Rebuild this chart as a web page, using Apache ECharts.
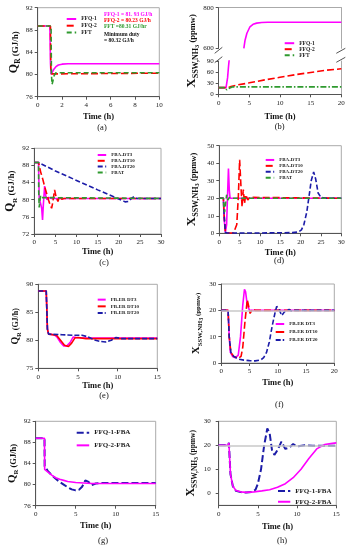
<!DOCTYPE html>
<html><head><meta charset="utf-8">
<script src="https://cdn.jsdelivr.net/npm/echarts@6/dist/echarts.min.js"></script>
<style>html,body{margin:0;padding:0;background:#fff}#c{width:354px;height:550px}</style>
</head><body><div id="c"></div>
<script>
// ---------------- DATA ----------------
// (a) Q_R vs time
const a_t_ffq1 = [0, 1.0, 1.05, 1.1, 1.2, 1.35, 1.5, 1.7, 2.0, 2.5, 10];
const a_q_ffq1 = [88.7, 88.7, 82, 80.0, 80.4, 81.0, 81.4, 81.7, 81.85, 81.93, 81.93];
const a_t_ffq2 = [0, 1.05, 1.08, 1.15, 1.3, 10];
const a_q_ffq2 = [88.7, 88.7, 81, 80.1, 80.23, 80.23];
const a_t_fft = [0, 1.1, 1.13, 1.18, 1.25, 1.35, 1.5, 1.7, 10];
const a_q_fft = [88.7, 88.7, 80, 78.2, 78.8, 79.8, 80.3, 80.31, 80.31];
const a_notes = ['FFQ-1 = 81. 93 GJ/h', 'FFQ-2 = 80.23 GJ/h', 'FFT =80.31 GJ/hr', 'Minimum duty', '= 80.32 GJ/h'];

// (b) X_SSW,NH3 vs time (broken axis)
const b_t_ffq1_low = [0, 1.2, 1.3, 1.45, 1.6, 1.75];
const b_x_ffq1_low = [18, 18, 20, 45, 75, 100];
const b_t_ffq1_high = [4.1, 4.3, 4.6, 5.1, 5.6, 6.2, 7.0, 8, 20];
const b_x_ffq1_high = [600, 640, 674, 706, 718, 724, 727, 728, 728];
const b_t_ffq2 = [0, 1.0, 1.3, 1.6, 2, 3, 5, 7.5, 10, 12.5, 15, 17.5, 20];
const b_x_ffq2 = [18, 18, 16, 18, 21, 25, 31, 39, 46, 53, 59, 65, 69];
const b_t_fft = [0, 1.0, 1.3, 1.5, 1.8, 2.2, 20];
const b_x_fft = [18, 18, 12, 10, 17, 20, 20];

// (c) Q_R, FBA
const c_t_dt3 = [0, 1.0, 1.15, 1.5, 1.75, 1.95, 2.15, 2.45, 2.7, 3.0, 3.4, 4, 30];
const c_q_dt3 = [88.7, 88.7, 80.5, 80.2, 78, 75.3, 79, 83.2, 81, 80, 80.5, 80.3, 80.3];
const c_t_dt10 = [0, 1.0, 1.5, 2.0, 2.5, 3.0, 3.5, 4.1, 4.4, 4.8, 5.2, 5.6, 6.0, 6.5, 7, 30];
const c_q_dt10 = [88.7, 88.7, 86.5, 84.8, 82.9, 81.2, 79.5, 78.0, 79.5, 82.3, 80.5, 79.6, 80.9, 80.1, 80.3, 80.3];
const c_t_dt20 = [0, 1.0, 1.2, 5, 10, 15, 19, 21.5, 22.3, 23.0, 23.6, 24.3, 30];
const c_q_dt20 = [88.7, 88.7, 88.4, 86.7, 84.5, 82.3, 80.6, 79.5, 79.6, 80.3, 80.7, 80.3, 80.3];
const c_t_fbat = [0, 1.0, 1.05, 1.15, 1.3, 1.5, 1.7, 2.0, 30];
const c_q_fbat = [88.7, 88.7, 82, 78.2, 79.5, 81, 80.5, 80.3, 80.3];

// (d) X, FBA
const d_t_dt3 = [0, 1.0, 1.2, 1.5, 1.8, 2.0, 2.25, 2.45, 2.65, 3.0, 3.5, 30];
const d_x_dt3 = [20, 20, 8, 0.5, 5, 20, 37, 25, 20, 21, 20, 20];
const d_t_dt10 = [0, 1.0, 1.2, 1.5, 2, 3.5, 3.9, 4.3, 4.7, 5.0, 5.3, 5.6, 5.9, 6.2, 6.5, 7, 7.5, 30];
const d_x_dt10 = [20, 20, 10, 0.5, 0.2, 0.2, 1, 5, 22, 42, 28, 15, 25, 17, 22, 19, 20.5, 20];
const d_t_dt20 = [0, 1.0, 1.2, 1.5, 2, 10, 18, 19.5, 20.2, 20.8, 21.5, 22, 22.6, 23.2, 23.7, 24.3, 25, 26, 30];
const d_x_dt20 = [20, 20, 10, 0.5, 0.2, 0.2, 0.4, 0.8, 2, 5, 12, 20, 30, 35, 31, 23, 20.5, 20, 20];
const d_t_fbat = [0, 1.0, 1.15, 1.3, 1.6, 1.8, 2.1, 2.5, 3, 30];
const d_x_fbat = [20, 20, 15, 12, 18, 22, 19, 20.5, 20, 20];

// (e) Q_R, FB-ER
const e_t_dt3 = [0, 1.0, 1.15, 1.3, 2.0, 2.4, 2.8, 3.2, 3.6, 4.0, 4.4, 4.8, 5.5, 15];
const e_q_dt3 = [88.8, 88.8, 82, 81.1, 81.0, 80.5, 79.6, 79.0, 79.0, 79.6, 80.6, 80.5, 80.4, 80.4];
const e_t_dt10 = [0, 1.0, 1.15, 1.3, 2.3, 2.8, 3.3, 3.8, 4.2, 4.6, 5, 6, 15];
const e_q_dt10 = [88.8, 88.8, 82, 81.1, 80.9, 80.0, 79.1, 78.9, 79.5, 80.4, 80.5, 80.3, 80.3];
const e_t_dt20 = [0, 1.0, 1.15, 1.3, 3, 4.5, 5.5, 6.3, 7, 7.8, 8.5, 9.2, 9.8, 10.5, 11.5, 15];
const e_q_dt20 = [88.8, 88.8, 82, 81.1, 81.0, 80.9, 80.9, 80.6, 80.1, 79.8, 79.7, 80.0, 80.5, 80.3, 80.3, 80.3];

// (f) X, FB-ER
const f_t_dt3 = [0, 1.2, 1.4, 1.6, 2.0, 2.5, 3.0, 3.4, 3.8, 4.1, 4.3, 4.6, 5.0, 5.5, 20];
const f_x_dt3 = [20, 20, 10, 4, 2.5, 2, 3, 10, 22, 28, 27, 22, 20, 20, 20];
const f_t_dt10 = [0, 1.2, 1.4, 1.7, 2.2, 3.0, 3.5, 3.8, 4.2, 4.6, 4.9, 5.1, 5.5, 6, 20];
const f_x_dt10 = [20, 20, 10, 4, 2.5, 1.8, 2.5, 6, 16, 24, 21, 18.8, 20.5, 20, 20];
const f_t_dt20 = [0, 1.2, 1.4, 1.7, 2.2, 3, 4, 5, 6, 7, 7.5, 8, 8.5, 9, 9.5, 9.8, 10.2, 10.7, 11.2, 12, 12.5, 13, 20];
const f_x_dt20 = [20, 20, 10, 4, 2.5, 1.5, 1.1, 0.9, 0.8, 1.2, 2, 4, 8, 14, 19, 21.5, 20.5, 18, 19.5, 20.3, 19.6, 20, 20];

// (g) Q_R, FFQ-FBA
const g_t_ffq1 = [0, 1.1, 1.12, 1.5, 2, 2.5, 3, 3.5, 4, 4.5, 5, 5.4, 5.8, 6.2, 6.6, 7.0, 7.5, 8, 15];
const g_q_ffq1 = [88.8, 88.8, 83.5, 82.6, 81.8, 81.1, 80.5, 80.0, 79.5, 79.1, 78.9, 79.0, 79.6, 80.8, 80.5, 79.9, 80.2, 80.3, 80.3];
const g_t_ffq2 = [0, 1.1, 1.12, 1.5, 2, 2.5, 3, 3.5, 4, 5, 6, 7, 15];
const g_q_ffq2 = [88.8, 88.8, 82.9, 82.4, 81.8, 81.3, 81.0, 80.8, 80.6, 80.4, 80.3, 80.2, 80.2];

// (h) X, FFQ-FBA
const h_t_ffq1 = [0, 1.2, 1.3, 1.5, 1.8, 2.2, 2.8, 3.5, 4.2, 4.7, 5.0, 5.4, 5.8, 6.2, 6.5, 6.8, 7.1, 7.5, 8.0, 8.5, 9.0, 9.5, 10, 11, 12, 15];
const h_x_ffq1 = [20, 20, 21, 8, 3, 1, 0.5, 0.3, 0.5, 1.5, 4, 10, 20, 27, 25, 18, 16, 18, 21.5, 18.5, 19, 20.5, 19.5, 20, 19.8, 19.8];
const h_t_ffq2 = [0, 1.2, 1.3, 1.5, 1.8, 2.2, 2.8, 3.5, 4.5, 5.5, 6.5, 7.5, 8.5, 9.5, 10.5, 11.5, 12.5, 13.5, 14.5, 15];
const h_x_ffq2 = [20, 20, 21, 8, 3, 1.2, 0.6, 0.4, 0.6, 1.0, 1.5, 2.5, 4, 6.5, 10, 14.5, 18.5, 20.3, 20.8, 21];

const captions = ['(a)', '(b)', '(c)', '(d)', '(e)', '(f)', '(g)', '(h)'];
const xName = 'Time (h)';

// ---------------- BUILD ----------------
const SERIF = '"Liberation Serif","Times New Roman",serif';
const COL = {mag: '#ff00ff', red: '#ff0000', navy: '#1c1ca8', green: '#2f9a2f'};
const grid = [], xAxis = [], yAxis = [], series = [], legend = [], graphic = [];
const zip = (t, v) => t.map((x, i) => [x, v[i]]);

function addGrid(g, show) {
  grid.push(Object.assign({show: show !== false, borderColor: '#aaa', borderWidth: 1, backgroundColor: 'transparent'}, g));
  return grid.length - 1;
}
function addX(gi, max, interval, nameGap, o) {
  o = o || {};
  xAxis.push({
    type: 'value', gridIndex: gi, min: 0, max: max, interval: interval,
    position: o.position || 'bottom',
    axisLine: {show: true, onZero: false, lineStyle: {color: o.lineColor || '#555', width: 1}},
    axisTick: {show: o.noLabel ? false : true, length: 3, lineStyle: {color: '#555'}},
    axisLabel: {show: !o.noLabel, fontSize: 7, fontFamily: SERIF, color: '#222', margin: 5},
    splitLine: {show: false},
    name: o.noLabel ? '' : xName, nameLocation: 'middle', nameGap: nameGap,
    nameTextStyle: {fontFamily: SERIF, fontWeight: 'bold', fontSize: 8.5, color: '#111'}
  });
  return xAxis.length - 1;
}
function qName(qs, us) {
  return {
    name: '{q|Q}{r|R}{u| (GJ/h)}',
    rich: {
      q: {fontSize: qs, fontWeight: 'bold', fontFamily: SERIF, color: '#111', verticalAlign: 'bottom', padding: [0, 0, 2, 0]},
      r: {fontSize: qs * 0.62, fontWeight: 'bold', fontFamily: SERIF, color: '#111', verticalAlign: 'bottom'},
      u: {fontSize: us, fontWeight: 'bold', fontFamily: SERIF, color: '#111', verticalAlign: 'bottom', padding: [0, 0, 2, 0]}
    }
  };
}
function xNameRich(xs, us) {
  return {
    name: '{x|X}{s|SSW,NH}{t|3}{u| (ppmw)}',
    rich: {
      x: {fontSize: xs, fontWeight: 'bold', fontFamily: SERIF, color: '#111', verticalAlign: 'bottom', padding: [0, 0, 3, 0]},
      s: {fontSize: xs * 0.62, fontWeight: 'bold', fontFamily: SERIF, color: '#111', verticalAlign: 'bottom', padding: [0, 0, 1, 0]},
      t: {fontSize: xs * 0.5, fontWeight: 'bold', fontFamily: SERIF, color: '#111', verticalAlign: 'bottom'},
      u: {fontSize: us, fontWeight: 'bold', fontFamily: SERIF, color: '#111', verticalAlign: 'bottom', padding: [0, 0, 3, 0]}
    }
  };
}
function addY(gi, min, max, interval, nm, nameGap, o) {
  o = o || {};
  const ax = {
    type: 'value', gridIndex: gi, min: min, max: max, interval: interval,
    position: o.position || 'left',
    axisLine: {show: true, onZero: false, lineStyle: {color: o.lineColor || '#555', width: 1}},
    axisTick: {show: !o.noLabel, length: 3, lineStyle: {color: '#555'}},
    axisLabel: {show: !o.noLabel, fontSize: 7, fontFamily: SERIF, color: '#222', margin: o.margin || 5},
    splitLine: {show: false}
  };
  if (o.custom) { ax.axisLabel.customValues = o.custom; ax.axisTick.customValues = o.custom; }
  if (o.hideLine) ax.axisLine.show = false;
  if (nm) {
    ax.name = nm.name; ax.nameLocation = 'middle'; ax.nameRotate = 90; ax.nameGap = nameGap;
    ax.nameTextStyle = {rich: nm.rich, fontFamily: SERIF, fontWeight: 'bold', color: '#111'};
  }
  yAxis.push(ax);
  return yAxis.length - 1;
}
function addLine(name, xi, yi, t, v, color, dash, width, extra) {
  series.push(Object.assign({
    type: 'line', name: name, xAxisIndex: xi, yAxisIndex: yi, data: zip(t, v),
    symbol: 'none', showSymbol: false, clip: true, animation: false,
    lineStyle: {color: color, width: width || 1.6, type: dash || 'solid'},
    itemStyle: {color: color}
  }, extra || {}));
}
function addLegend(names, left, top, iw, ih, gap, fs) {
  legend.push({
    data: names, left: left, top: top, orient: 'vertical', padding: 0,
    itemWidth: iw, itemHeight: ih, itemGap: gap, selectedMode: false,
    itemStyle: {opacity: 0},
    textStyle: {fontSize: fs, fontFamily: SERIF, fontWeight: 'bold', color: '#222', lineHeight: ih}
  });
}
function addText(txt, x, y, size, color, bold, align) {
  graphic.push({type: 'text', x: x, y: y, silent: true,
    style: {text: txt, fill: color || '#111', font: (bold ? 'bold ' : '') + size + 'px ' + SERIF,
      align: align || 'left', verticalAlign: 'middle', textAlign: align || 'left', textVerticalAlign: 'middle'}});
}
const ref20 = {markLine: {silent: true, symbol: 'none', label: {show: false}, animation: false,
  lineStyle: {color: '#c8c8c8', width: 1.5, type: 'solid'}, data: [{yAxis: 20}]}};

// (a)
{
  const g = addGrid({left: 37.7, top: 7.7, width: 121.6, height: 89});
  const xi = addX(g, 10, 2, 16);
  const yi = addY(g, 76, 92, 4, qName(12, 9), 11);
  addLine('FFQ-1', xi, yi, a_t_ffq1, a_q_ffq1, COL.mag, 'solid');
  addLine('FFQ-2', xi, yi, a_t_ffq2, a_q_ffq2, COL.red, [7, 3]);
  addLine('FFT', xi, yi, a_t_fft, a_q_fft, COL.green, [5, 3]);
  addLegend(['FFQ-1', 'FFQ-2', 'FFT'], 65.7, 16, 9.5, 6, 0.7, 5.5);
  const cols = [COL.mag, COL.red, COL.green, '#111', '#111'];
  const ys = [15, 21, 26.7, 34.7, 40.3];
  a_notes.forEach((s, i) => addText(s, 104, ys[i], 5.5, cols[i], true));
}
// (b) broken axis
{
  const gT = addGrid({left: 218.7, top: 7.7, width: 122.6, height: 40.6}, false);
  const gB = addGrid({left: 218.7, top: 61, width: 122.6, height: 33.3}, false);
  const gN = addGrid({left: 218.7, top: 7.7, width: 122.6, height: 86.6}, false);
  const xT = addX(gT, 20, 5, 0, {position: 'top', noLabel: true, lineColor: '#aaa'});
  const yT = addY(gT, 600, 800, 200, null, 0);
  addY(gT, 600, 800, 200, null, 0, {position: 'right', noLabel: true, lineColor: '#aaa'});
  const xB = addX(gB, 20, 5, 18);
  const yB = addY(gB, 0, 90, 30, null, 0);
  addY(gB, 0, 90, 30, null, 0, {position: 'right', noLabel: true, lineColor: '#aaa'});
  addX(gN, 20, 5, 0, {noLabel: true, lineColor: 'transparent'});
  xAxis[xAxis.length - 1].show = false;
  addY(gN, 0, 1, 1, xNameRich(13, 8.5), 18, {noLabel: true, hideLine: true});
  addLine('FFQ-1', xB, yB, b_t_ffq1_low, b_x_ffq1_low, COL.mag, 'solid');
  addLine('FFQ-1', xT, yT, b_t_ffq1_high, b_x_ffq1_high, COL.mag, 'solid');
  addLine('FFQ-2', xB, yB, b_t_ffq2, b_x_ffq2, COL.red, [7, 3]);
  addLine('FFT', xB, yB, b_t_fft, b_x_fft, COL.green, [6, 2, 1.5, 2]);
  addLegend(['FFQ-1', 'FFQ-2', 'FFT'], 283.7, 40.2, 9.5, 5.7, 0, 5.5);
  const sl = [[214.7, 53.3, 222.3, 47.3], [214.7, 62.7, 222.3, 56.7], [336.3, 53.3, 345.3, 48.3], [336.3, 62.3, 345.3, 57.3]];
  sl.forEach(s => graphic.push({type: 'line', silent: true, shape: {x1: s[0], y1: s[1], x2: s[2], y2: s[3]},
    style: {stroke: '#555', lineWidth: 1}}));
}
// (c)
{
  const g = addGrid({left: 34.3, top: 148.3, width: 126.7, height: 85.7});
  const xi = addX(g, 30, 5, 13);
  const yi = addY(g, 72, 92, 4, qName(11.5, 9), 12);
  addLine('FBA-DT3', xi, yi, c_t_dt3, c_q_dt3, COL.mag, 'solid');
  addLine('FBA-DT10', xi, yi, c_t_dt10, c_q_dt10, COL.red, [7, 3]);
  addLine('FBA-DT20', xi, yi, c_t_dt20, c_q_dt20, COL.navy, [5, 2.5]);
  addLine('FBAT', xi, yi, c_t_fbat, c_q_fbat, COL.green, [5, 3]);
  addLegend(['FBA-DT3', 'FBA-DT10', 'FBA-DT20', 'FBAT'], 96.7, 152.1, 8.5, 5.8, 0, 5);
}
// (d)
{
  const g = addGrid({left: 219.3, top: 145.7, width: 122, height: 87.6});
  const xi = addX(g, 30, 5, 14.5);
  const yi = addY(g, 0, 50, 10, xNameRich(13, 8.5), 18);
  addLine('FBA-DT3', xi, yi, d_t_dt3, d_x_dt3, COL.mag, 'solid');
  addLine('FBA-DT10', xi, yi, d_t_dt10, d_x_dt10, COL.red, [7, 3]);
  addLine('FBA-DT20', xi, yi, d_t_dt20, d_x_dt20, COL.navy, [5, 2.5]);
  addLine('FBAT', xi, yi, d_t_fbat, d_x_fbat, COL.green, [5, 3]);
  addLegend(['FBA-DT3', 'FBA-DT10', 'FBA-DT20', 'FBAT'], 264.7, 157, 8.5, 5.9, 0, 5);
}
// (e)
{
  const g = addGrid({left: 38.3, top: 284.3, width: 119, height: 84});
  const xi = addX(g, 15, 5, 11);
  const yi = addY(g, 75, 90, 5, qName(10, 8), 15);
  addLine('FB-ER DT3', xi, yi, e_t_dt3, e_q_dt3, COL.mag, 'solid');
  addLine('FB-ER DT10', xi, yi, e_t_dt10, e_q_dt10, COL.red, 'solid');
  addLine('FB-ER DT20', xi, yi, e_t_dt20, e_q_dt20, COL.navy, [5, 2]);
  addLegend(['FB-ER DT3', 'FB-ER DT10', 'FB-ER DT20'], 96.7, 296.3, 8, 6.7, 0, 5);
}
// (f)
{
  const g = addGrid({left: 221.3, top: 284, width: 113, height: 79});
  const xi = addX(g, 20, 5, 15);
  const yi = addY(g, 0, 30, 10, xNameRich(11, 7), 17);
  addLine('FB-ER DT3', xi, yi, f_t_dt3, f_x_dt3, COL.mag, 'solid', 1.6, ref20);
  addLine('FB-ER DT10', xi, yi, f_t_dt10, f_x_dt10, COL.red, [7, 3]);
  addLine('FB-ER DT20', xi, yi, f_t_dt20, f_x_dt20, COL.navy, [5, 2.5]);
  addLegend(['FB-ER DT3', 'FB-ER DT10', 'FB-ER DT20'], 274.7, 320, 8.5, 8, 0, 5);
}
// (g)
{
  const g = addGrid({left: 35.7, top: 421.3, width: 120, height: 84.4});
  const xi = addX(g, 15, 5, 15.5);
  const yi = addY(g, 76, 92, 4, qName(11, 8.5), 13);
  addLine('FFQ-1-FBA', xi, yi, g_t_ffq1, g_q_ffq1, COL.navy, [7, 3], 2);
  addLine('FFQ-2-FBA', xi, yi, g_t_ffq2, g_q_ffq2, COL.mag, 'solid', 1.6);
  addLegend(['FFQ-1-FBA', 'FFQ-2-FBA'], 75.7, 426.3, 12.5, 12.7, 0, 7);
}
// (h)
{
  const g = addGrid({left: 218.7, top: 421.3, width: 117.6, height: 84});
  const xi = addX(g, 15, 5, 17);
  const yi = addY(g, -5, 30, 5, xNameRich(12, 7.5), 17, {custom: [0, 10, 20, 30], margin: 8});
  addLine('FFQ-1-FBA', xi, yi, h_t_ffq1, h_x_ffq1, COL.navy, [7, 3], 2, ref20);
  addLine('FFQ-2-FBA', xi, yi, h_t_ffq2, h_x_ffq2, COL.mag, 'solid', 1.6);
  addLegend(['FFQ-1-FBA', 'FFQ-2-FBA'], 277, 485.7, 12.3, 10.7, 0, 7);
}
// captions
const capPos = [[102, 127.7], [279.7, 126.7], [104, 263], [279, 260.3], [104, 395.5], [279.3, 404.3], [103, 541], [282, 541]];
captions.forEach((c, i) => addText(c, capPos[i][0], capPos[i][1], 8.5, '#111', false, 'center'));

const chart = echarts.init(document.getElementById('c'), null, {renderer: 'canvas'});
chart.setOption({animation: false, backgroundColor: '#fff', grid, xAxis, yAxis, series, legend, graphic});
</script>
</body></html>
